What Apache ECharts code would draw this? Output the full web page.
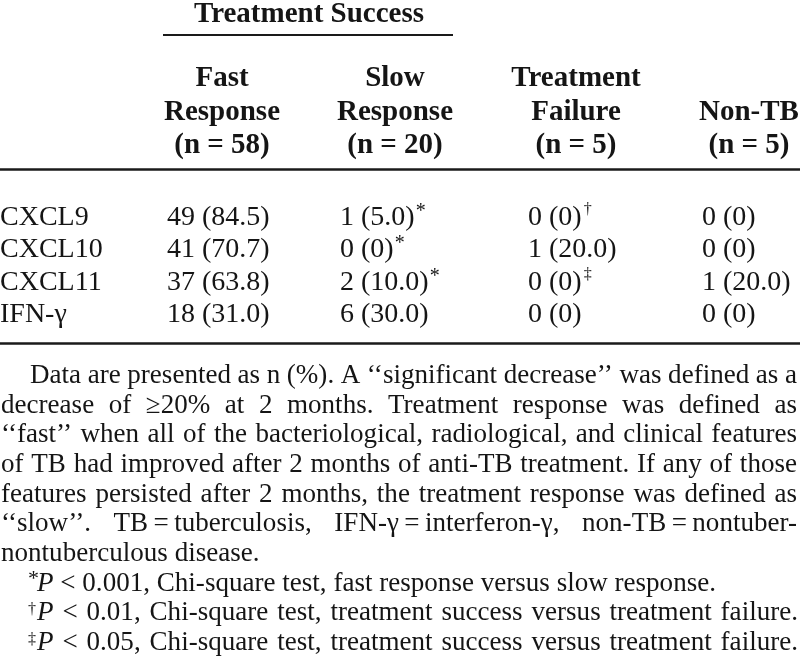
<!DOCTYPE html>
<html><head><meta charset="utf-8">
<script src="https://cdn.jsdelivr.net/npm/echarts@6/dist/echarts.min.js"></script>
<style>html,body{margin:0;padding:0;background:#fff}#c{width:800px;height:668px}</style>
</head><body><div id="c"></div>
<script>
// ---------------- data ----------------
const rowLabels = ['CXCL9', 'CXCL10', 'CXCL11', 'IFN-γ'];
const columnKeys = ['Fast response', 'Slow response', 'Treatment failure', 'Non-TB'];
const groupLabel = 'Treatment Success';
const columnHeaders = [
  ['Fast', 'Response', '(n = 58)'],
  ['Slow', 'Response', '(n = 20)'],
  ['Treatment', 'Failure', '(n = 5)'],
  ['', 'Non-TB', '(n = 5)']
];
const fastN = [49, 41, 37, 18];
const fastPct = [84.5, 70.7, 63.8, 31.0];
const slowN = [1, 0, 2, 6];
const slowPct = [5.0, 0, 10.0, 30.0];
const failN = [0, 1, 0, 0];
const failPct = [0, 20.0, 0, 0];
const nonTbN = [0, 0, 1, 0];
const nonTbPct = [0, 0, 20.0, 0];
const fastMarks = ['', '', '', ''];
const slowMarks = ['*', '*', '*', ''];
const failMarks = ['†', '', '‡', ''];
const nonTbMarks = ['', '', '', ''];
const noteLines = [
  'Data are presented as n (%). A ‘‘significant decrease’’ was defined as a',
  'decrease of ≥20% at 2 months. Treatment response was defined as',
  '‘‘fast’’ when all of the bacteriological, radiological, and clinical features',
  'of TB had improved after 2 months of anti-TB treatment. If any of those',
  'features persisted after 2 months, the treatment response was defined as',
  '‘‘slow’’. TB\u2009=\u2009tuberculosis, IFN-γ\u2009=\u2009interferon-γ, non-TB\u2009=\u2009nontuber-',
  'nontuberculous disease.'
];
const sigMarks = ['*', '†', '‡'];
const sigP = ['0.001', '0.01', '0.05'];
const sigText = [
  'Chi-square test, fast response versus slow response.',
  'Chi-square test, treatment success versus treatment failure.',
  'Chi-square test, treatment success versus treatment failure.'
];

// ---------------- layout / style ----------------
const FONT = '"Liberation Serif","Times New Roman",serif';
const INK = '#151515';
const colN = [fastN, slowN, failN, nonTbN];
const colPct = [fastPct, slowPct, failPct, nonTbPct];
const colMarks = [fastMarks, slowMarks, failMarks, nonTbMarks];
const colLabelDx = [0, -5, 5, 1];
const headerCenters = [222, 395, 576, 749];
const headerBaselines = [86, 120, 153];
const HEAD_SIZE = 29;
const FN_SIZE = 27;
const MID = 0.27;
const fnBase0 = 383, fnPitch = 29.7;
const fnStarts = [30, 1, 1, 1, 1, 1, 1];
const fnEnds = [797, 797, 797, 797, 797, 797, null];
const sigStartP = 37, sigMarkX = 28;
const sigEnds = [716, 798, 798];

const ctx = document.createElement('canvas').getContext('2d');
function mw(t, size, it, bold) {
  ctx.font = (it ? 'italic ' : '') + (bold ? 'bold ' : '') + size + 'px "Liberation Serif"';
  return ctx.measureText(t).width;
}
function fmtPct(p) { return p === 0 ? '0' : p.toFixed(1); }

const graphics = [];
function addText(x, y, text, o) {
  o = o || {};
  graphics.push({
    type: 'text', x: x, y: y, scaleX: o.scaleX || 1, silent: true,
    style: {
      text: text, fontSize: o.size || FN_SIZE, fontFamily: FONT,
      fontStyle: o.it ? 'italic' : 'normal', fontWeight: o.bold ? 'bold' : 'normal',
      fill: INK, align: o.align || 'left', verticalAlign: 'middle',
      textAlign: o.align || 'left', textVerticalAlign: 'middle'
    }
  });
}
function addLine(x1, x2, y, w) {
  graphics.push({ type: 'line', silent: true, shape: { x1: x1, y1: y, x2: x2, y2: y },
    style: { stroke: '#1a1a1a', lineWidth: w } });
}

// header
addText(309, 22 - MID * HEAD_SIZE, groupLabel, { size: HEAD_SIZE, bold: true, align: 'center' });
addLine(163, 453, 35, 2);
columnHeaders.forEach((lines, j) => {
  lines.forEach((t, k) => {
    if (t) addText(headerCenters[j], headerBaselines[k] - MID * HEAD_SIZE, t, { size: HEAD_SIZE, bold: true, align: 'center' });
  });
});
addLine(0, 800, 169.5, 2.5);
addLine(0, 800, 343.5, 2.5);

// footnotes: word-level justification
const sigWords = sigP.map((p, i) => [[{ t: 'P', it: true }], [{ t: '<' }], [{ t: p + ',' }]]
  .concat(sigText[i].split(' ').map(w => [{ t: w }])));
function wordWidth(frags) { return frags.reduce((s, f) => s + mw(f.t, FN_SIZE, f.it), 0); }
const spaceW = mw(' ', FN_SIZE);
const nat0 = sigWords[0].reduce((s, w) => s + wordWidth(w), 0) + spaceW * (sigWords[0].length - 1);
const stretch = Math.min(1.02, Math.max(0.9, (sigEnds[0] - sigStartP) / nat0));

function layLine(words, x0, x1, baseline) {
  const widths = words.map(w => wordWidth(w) * stretch);
  const total = widths.reduce((a, b) => a + b, 0);
  const gap = x1 == null ? spaceW * stretch : (x1 - x0 - total) / (words.length - 1);
  let x = x0;
  const yc = baseline - MID * FN_SIZE;
  words.forEach((w, i) => {
    let xx = x;
    w.forEach(f => {
      addText(xx, yc, f.t, { size: FN_SIZE, it: f.it, scaleX: stretch });
      xx += mw(f.t, FN_SIZE, f.it) * stretch;
    });
    x += widths[i] + gap;
  });
}
noteLines.forEach((line, i) => {
  layLine(line.split(' ').map(w => [{ t: w }]), fnStarts[i], fnEnds[i], fnBase0 + fnPitch * i);
});
sigWords.forEach((words, i) => {
  const bl = fnBase0 + fnPitch * (noteLines.length + i);
  const m = sigMarks[i];
  const ms = m === '*' ? 22 : 16, raise = 6;
  addText(sigMarkX, bl - raise - MID * ms, m, { size: ms });
  layLine(words, sigStartP, sigEnds[i], bl);
});

// table cells as scatter labels on category axes
const series = columnKeys.map((key, j) => ({
  name: key, type: 'scatter', symbolSize: 1, itemStyle: { color: 'rgba(0,0,0,0)' },
  data: rowLabels.map((r, i) => ({ value: [key, r], n: colN[j][i], pct: colPct[j][i], mark: colMarks[j][i] })),
  label: {
    show: true, position: 'inside', align: 'left', verticalAlign: 'middle', offset: [colLabelDx[j], 0],
    color: INK, opacity: 1,
    formatter: p => '{v|' + p.data.n + ' (' + fmtPct(p.data.pct) + ')}' +
      (p.data.mark ? (p.data.mark === '*' ? '{s|*}' : '{d|' + p.data.mark + '}') : ''),
    rich: {
      v: { fontSize: 28, fontFamily: FONT, color: INK, lineHeight: 32 },
      s: { fontSize: 20, fontFamily: FONT, color: INK, lineHeight: 18, verticalAlign: 'top', padding: [0, 0, 0, 1] },
      d: { fontSize: 16, fontFamily: FONT, color: INK, lineHeight: 14, verticalAlign: 'top', padding: [0, 0, 0, 2] }
    }
  },
  emphasis: { disabled: true }
}));

const chart = echarts.init(document.getElementById('c'), null, { renderer: 'canvas' });
chart.setOption({
  animation: false,
  backgroundColor: '#ffffff',
  grid: { left: 167, right: 99, top: 201.25, height: 130, containLabel: false, outerBoundsMode: 'none' },
  xAxis: { type: 'category', data: columnKeys, boundaryGap: false, show: false },
  yAxis: {
    type: 'category', data: rowLabels, inverse: true, boundaryGap: true,
    axisLine: { show: false }, axisTick: { show: false }, splitLine: { show: false },
    axisLabel: { show: true, interval: 0, align: 'left', margin: 167, fontSize: 28, fontFamily: FONT, color: INK }
  },
  series: series,
  graphic: { elements: graphics }
});
</script></body></html>
